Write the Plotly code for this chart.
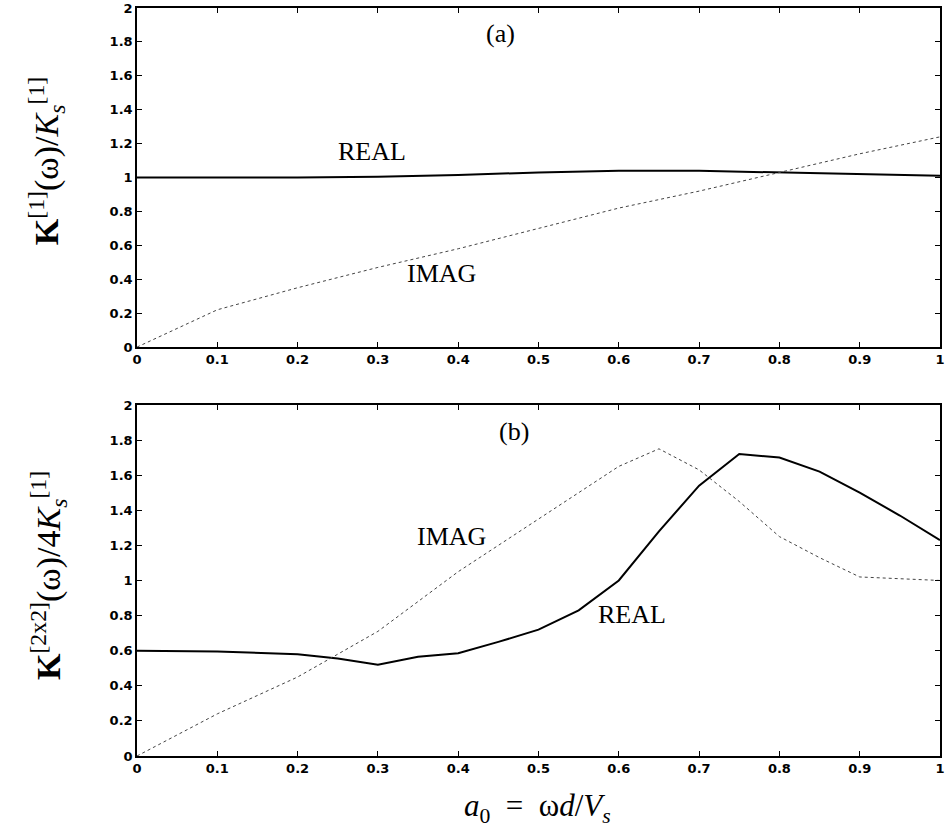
import plotly.graph_objects as go
from plotly.subplots import make_subplots

# Panel (a)
xa = [0.0, 0.1, 0.2, 0.3, 0.4, 0.5, 0.6, 0.7, 0.8, 0.9, 1.0]
real_a = [1.0, 1.0, 1.0, 1.005, 1.015, 1.03, 1.04, 1.04, 1.03, 1.02, 1.01]
imag_a = [0.0, 0.22, 0.35, 0.47, 0.58, 0.70, 0.82, 0.92, 1.03, 1.14, 1.24]

# Panel (b)
xb = [0.0, 0.1, 0.2, 0.25, 0.3, 0.35, 0.4, 0.45, 0.5, 0.55, 0.6, 0.65, 0.7,
      0.75, 0.8, 0.85, 0.9, 0.95, 1.0]
real_b = [0.6, 0.595, 0.58, 0.555, 0.52, 0.565, 0.585, 0.65, 0.72, 0.83,
          1.0, 1.28, 1.54, 1.72, 1.70, 1.62, 1.50, 1.37, 1.23]
imag_b = [0.0, 0.24, 0.45, 0.58, 0.71, 0.88, 1.05, 1.20, 1.35, 1.50,
          1.65, 1.75, 1.63, 1.45, 1.25, 1.13, 1.02, 1.01, 1.0]

xticks = [0, 0.1, 0.2, 0.3, 0.4, 0.5, 0.6, 0.7, 0.8, 0.9, 1]
xticklabels = ["0", "0.1", "0.2", "0.3", "0.4", "0.5", "0.6", "0.7", "0.8", "0.9", "1"]
yticks = [0, 0.2, 0.4, 0.6, 0.8, 1, 1.2, 1.4, 1.6, 1.8, 2]
yticklabels = ["0", "0.2", "0.4", "0.6", "0.8", "1", "1.2", "1.4", "1.6", "1.8", "2"]

fig = make_subplots(rows=2, cols=1)

solid = dict(color="black", width=2)
dotted = dict(color="#444444", width=1, dash="dot")

fig.add_trace(go.Scatter(x=xa, y=real_a, mode="lines", line=solid, showlegend=False), row=1, col=1)
fig.add_trace(go.Scatter(x=xa, y=imag_a, mode="lines", line=dotted, showlegend=False), row=1, col=1)
fig.add_trace(go.Scatter(x=xb, y=real_b, mode="lines", line=solid, showlegend=False), row=2, col=1)
fig.add_trace(go.Scatter(x=xb, y=imag_b, mode="lines", line=dotted, showlegend=False), row=2, col=1)

tickfont = dict(family="DejaVu Sans", size=13, color="black", weight="bold")
axis_common = dict(showgrid=False, zeroline=False, showline=True, linecolor="black",
                   linewidth=1.5, mirror="allticks", ticks="inside", ticklen=5,
                   tickcolor="black", tickwidth=1, tickfont=tickfont,
                   ticklabeloverflow="allow")

for r in (1, 2):
    fig.update_xaxes(range=[0, 1], tickvals=xticks, ticktext=xticklabels, row=r, col=1, **axis_common)
    fig.update_yaxes(range=[0, 2], tickvals=yticks, ticktext=yticklabels, row=r, col=1, **axis_common)

W, H = 946, 836
l, r, t, b = 137, 1, 6, 80
pw, ph = W - l - r, H - t - b

fig.update_layout(
    width=W, height=H,
    margin=dict(l=l, r=r, t=t, b=b),
    paper_bgcolor="white", plot_bgcolor="white",
    yaxis=dict(domain=[(H - b - 346) / ph, 1.0]),
    yaxis2=dict(domain=[0.0, (H - b - 404) / ph]),
)

serif = "Liberation Serif"
ann_font = dict(family=serif, size=26, color="black")
anns = [
    dict(x=0.453, y=1.85, xref="x", yref="y", text="(a)"),
    dict(x=0.293, y=1.153, xref="x", yref="y", text="REAL"),
    dict(x=0.379, y=0.435, xref="x", yref="y", text="IMAG"),
    dict(x=0.470, y=1.85, xref="x2", yref="y2", text="(b)"),
    dict(x=0.392, y=1.25, xref="x2", yref="y2", text="IMAG"),
    dict(x=0.616, y=0.806, xref="x2", yref="y2", text="REAL"),
]
for a in anns:
    fig.add_annotation(showarrow=False, font=ann_font, xanchor="center", yanchor="middle", **a)


def px2paper(px, py):
    return (px - l) / pw, (H - b - py) / ph


title_font = dict(family=serif, size=34, color="black")
x1, y1 = px2paper(46, 160)
fig.add_annotation(
    x=x1, y=y1, xref="paper", yref="paper", showarrow=False, textangle=-90,
    xanchor="center", yanchor="middle",
    text="<b>K</b><sup>[1]</sup>(ω)/<i>K</i><sub><i>s</i></sub><sup>[1]</sup>",
    font=title_font,
)
x2, y2 = px2paper(48, 575)
fig.add_annotation(
    x=x2, y=y2, xref="paper", yref="paper", showarrow=False, textangle=-90,
    xanchor="center", yanchor="middle",
    text="<b>K</b><sup>[2x2]</sup>(ω)/4<i>K</i><sub><i>s</i></sub><sup>[1]</sup>",
    font=title_font,
)
x3, y3 = px2paper(540, 808)
fig.add_annotation(
    x=x3, y=y3, xref="paper", yref="paper", showarrow=False,
    xanchor="center", yanchor="middle",
    text="<i>a</i><sub>0</sub>&nbsp;&nbsp;=&nbsp;&nbsp;ω<i>d</i>/<i>V</i><sub><i>s</i></sub>",
    font=dict(family=serif, size=31, color="black"),
)

fig.write_html("out.html")
